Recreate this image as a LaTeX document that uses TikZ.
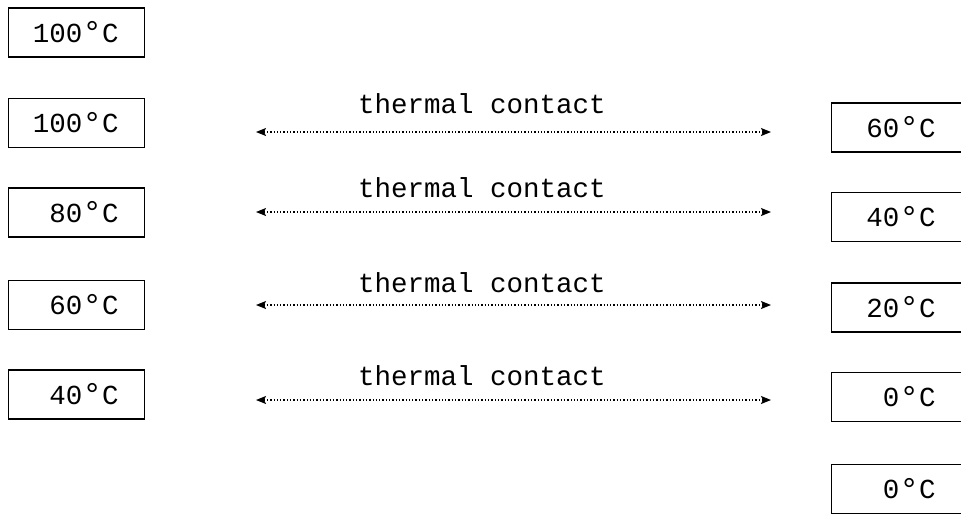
\documentclass[tikz,border=0pt]{standalone}
\usepackage{fontspec}
\usepackage{graphicx}
\setmonofont{Liberation Mono}
\usetikzlibrary{arrows.meta}

% a slightly enlarged degree sign
\newcommand\degsign{\raisebox{-0.04em}{\scalebox{1.2}{°}}}
% left column labels: right-aligned inside a fixed-width box
\newcommand\lefttemp[1]{\makebox[110pt][r]{#1}\hspace*{26pt}}
% right column labels: the box runs on past the page edge
\newcommand\righttemp[1]{\makebox[104pt][r]{#1}\hspace*{70pt}}

\tikzset{
  tempbox/.style={draw, line width=1.2pt, inner sep=0pt, minimum height=49pt,
    font=\ttfamily\fontsize{27.5}{32}\selectfont, anchor=west},
  contactlabel/.style={font=\ttfamily\fontsize{27.5}{32}\selectfont, anchor=base, inner sep=0pt},
  contactarrow/.style={line width=1.3pt, dash pattern=on 1.3pt off 2pt,
    {Stealth[length=10pt,width=8pt,inset=2pt]}-{Stealth[length=10pt,width=8pt,inset=2pt]}}
}

\begin{document}
\begin{tikzpicture}[x=1pt, y=-1pt]
\useasboundingbox (0,0) rectangle (961,520);
\clip (0,0) rectangle (961,520);

% hot bodies
\node[tempbox] (h0) at (8,32.5) {\lefttemp{100\degsign C}};
\node[tempbox] (h1) at (8,123) {\lefttemp{100\degsign C}};
\node[tempbox] (h2) at (8,212.5) {\lefttemp{80\degsign C}};
\node[tempbox] (h3) at (8,305) {\lefttemp{60\degsign C}};
\node[tempbox] (h4) at (8,394.5) {\lefttemp{40\degsign C}};

% cold bodies
\node[tempbox] (c1) at (831,127.5) {\righttemp{60\degsign C}};
\node[tempbox] (c2) at (831,217) {\righttemp{40\degsign C}};
\node[tempbox] (c3) at (831,307.5) {\righttemp{20\degsign C}};
\node[tempbox] (c4) at (831,397) {\righttemp{0\degsign C}};
\node[tempbox] (c5) at (831,489) {\righttemp{0\degsign C}};

% thermal contact links
\foreach \i/\ya/\yt in {1/132/113, 2/212/197, 3/305/292, 4/400/385}{
  \coordinate (l\i) at (256,\ya);
  \coordinate (r\i) at (771,\ya);
  \draw[contactarrow] (l\i) -- (r\i);
  \node[contactlabel] (t\i) at (482,\yt) {thermal contact};
}
\end{tikzpicture}
\end{document}
